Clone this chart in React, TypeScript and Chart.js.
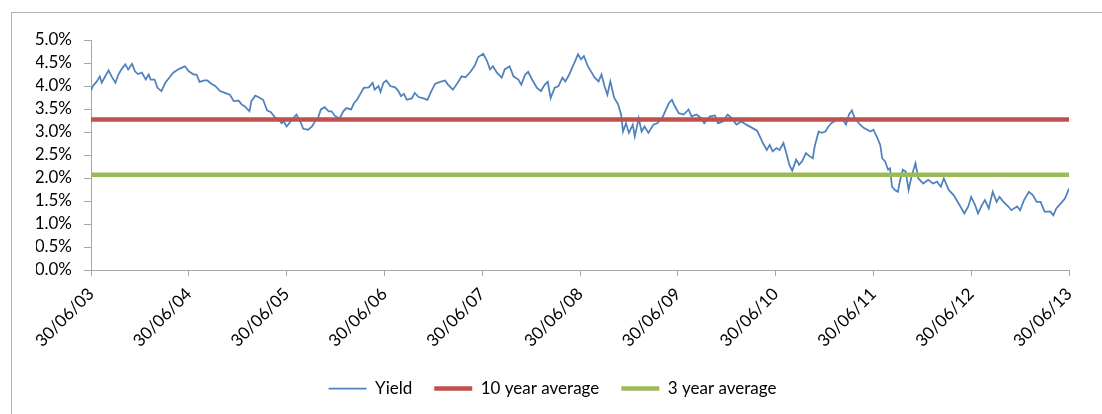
import React, { useEffect, useRef } from "react";
import { Chart, registerables } from "chart.js";
Chart.register(...registerables);

const FONT = "Lato, 'Open Sans', sans-serif";

// decimal years (30/06/03 = 2003.5)
const yieldYears = [
  2003.50, 2003.52, 2003.56, 2003.59, 2003.61, 2003.64, 2003.68, 2003.71, 2003.75, 2003.78,
  2003.81, 2003.85, 2003.88, 2003.92, 2003.95, 2003.98, 2004.02, 2004.06, 2004.09, 2004.11,
  2004.15, 2004.18, 2004.22, 2004.26, 2004.30, 2004.34, 2004.39, 2004.43, 2004.46, 2004.50,
  2004.55, 2004.58, 2004.61, 2004.66, 2004.69, 2004.73, 2004.77, 2004.82, 2004.87, 2004.92,
  2004.96, 2005.01, 2005.04, 2005.07, 2005.12, 2005.14, 2005.18, 2005.21, 2005.26, 2005.30,
  2005.34, 2005.38, 2005.42, 2005.45, 2005.47, 2005.50, 2005.55, 2005.60, 2005.64, 2005.67,
  2005.72, 2005.76, 2005.79, 2005.82, 2005.85, 2005.89, 2005.93, 2005.96, 2005.99, 2006.04,
  2006.08, 2006.11, 2006.16, 2006.19, 2006.22, 2006.26, 2006.29, 2006.34, 2006.38, 2006.40,
  2006.44, 2006.46, 2006.49, 2006.52, 2006.56, 2006.61, 2006.64, 2006.67, 2006.70, 2006.73,
  2006.78, 2006.81, 2006.85, 2006.90, 2006.94, 2006.98, 2007.02, 2007.07, 2007.12, 2007.15,
  2007.20, 2007.25, 2007.29, 2007.33, 2007.38, 2007.42, 2007.46, 2007.51, 2007.55, 2007.58,
  2007.61, 2007.65, 2007.70, 2007.73, 2007.78, 2007.82, 2007.87, 2007.90, 2007.94, 2007.97,
  2008.01, 2008.06, 2008.10, 2008.14, 2008.17, 2008.20, 2008.24, 2008.28, 2008.32, 2008.35,
  2008.39, 2008.42, 2008.45, 2008.48, 2008.51, 2008.54, 2008.58, 2008.62, 2008.65, 2008.69,
  2008.72, 2008.75, 2008.78, 2008.81, 2008.85, 2008.89, 2008.92, 2008.94, 2008.97, 2009.00,
  2009.04, 2009.06, 2009.10, 2009.13, 2009.16, 2009.20, 2009.25, 2009.29, 2009.34, 2009.38,
  2009.41, 2009.44, 2009.47, 2009.51, 2009.56, 2009.61, 2009.64, 2009.69, 2009.74, 2009.77,
  2009.83, 2009.88, 2009.91, 2009.96, 2010.01, 2010.05, 2010.10, 2010.15, 2010.20, 2010.26,
  2010.31, 2010.34, 2010.37, 2010.41, 2010.44, 2010.47, 2010.51, 2010.54, 2010.58, 2010.61,
  2010.64, 2010.67, 2010.71, 2010.74, 2010.77, 2010.81, 2010.85, 2010.88, 2010.90, 2010.94,
  2010.97, 2011.01, 2011.04, 2011.07, 2011.13, 2011.18, 2011.22, 2011.25, 2011.28, 2011.31,
  2011.36, 2011.40, 2011.47, 2011.50, 2011.54, 2011.57, 2011.59, 2011.62, 2011.65, 2011.67,
  2011.69, 2011.72, 2011.75, 2011.77, 2011.80, 2011.83, 2011.86, 2011.89, 2011.93, 2011.96,
  2012.01, 2012.06, 2012.11, 2012.15, 2012.19, 2012.22, 2012.27, 2012.32, 2012.37, 2012.43,
  2012.47, 2012.50, 2012.54, 2012.57, 2012.61, 2012.64, 2012.68, 2012.72, 2012.76, 2012.79,
  2012.83, 2012.88, 2012.91, 2012.97, 2013.00, 2013.04, 2013.09, 2013.13, 2013.17, 2013.21,
  2013.25, 2013.31, 2013.34, 2013.37, 2013.43, 2013.46, 2013.50,
];

const yieldValues = [
  3.90, 4.00, 4.10, 4.21, 4.07, 4.19, 4.34, 4.21, 4.07, 4.25,
  4.36, 4.47, 4.36, 4.48, 4.32, 4.26, 4.29, 4.14, 4.25, 4.14,
  4.14, 3.96, 3.89, 4.07, 4.18, 4.29, 4.36, 4.40, 4.43, 4.32,
  4.25, 4.25, 4.09, 4.12, 4.12, 4.05, 4.00, 3.89, 3.85, 3.81,
  3.67, 3.68, 3.60, 3.56, 3.45, 3.67, 3.79, 3.76, 3.70, 3.47,
  3.43, 3.32, 3.27, 3.19, 3.23, 3.12, 3.25, 3.38, 3.23, 3.07,
  3.05, 3.12, 3.23, 3.30, 3.49, 3.54, 3.45, 3.45, 3.36, 3.29,
  3.45, 3.52, 3.49, 3.63, 3.70, 3.85, 3.96, 3.97, 4.07, 3.92,
  4.00, 3.87, 4.07, 4.12, 4.00, 3.97, 3.90, 3.78, 3.83, 3.70,
  3.73, 3.85, 3.76, 3.73, 3.70, 3.89, 4.05, 4.09, 4.12, 4.03,
  3.92, 4.07, 4.21, 4.19, 4.31, 4.43, 4.63, 4.70, 4.54, 4.36,
  4.43, 4.29, 4.18, 4.36, 4.43, 4.21, 4.14, 4.03, 4.25, 4.31,
  4.14, 3.96, 3.89, 4.03, 4.09, 3.74, 3.96, 4.00, 4.18, 4.10,
  4.25, 4.40, 4.54, 4.69, 4.58, 4.65, 4.43, 4.29, 4.18, 4.10,
  4.25, 4.00, 3.81, 4.10, 3.74, 3.60, 3.38, 3.01, 3.19, 2.98,
  3.16, 2.90, 3.30, 3.01, 3.12, 2.98, 3.16, 3.19, 3.30, 3.49,
  3.63, 3.70, 3.56, 3.41, 3.38, 3.49, 3.34, 3.38, 3.30, 3.19,
  3.34, 3.36, 3.19, 3.23, 3.38, 3.30, 3.16, 3.23, 3.16, 3.09,
  3.03, 2.90, 2.76, 2.61, 2.72, 2.58, 2.65, 2.61, 2.76, 2.54,
  2.29, 2.16, 2.40, 2.29, 2.36, 2.54, 2.47, 2.43, 2.69, 3.01,
  2.98, 3.01, 3.12, 3.19, 3.27, 3.30, 3.16, 3.38, 3.47, 3.30,
  3.17, 3.09, 3.01, 3.05, 2.87, 2.72, 2.43, 2.36, 2.18, 2.21,
  1.81, 1.74, 1.70, 1.92, 2.18, 2.14, 1.74, 2.03, 2.32, 1.99,
  1.88, 1.96, 1.88, 1.92, 1.81, 1.99, 1.74, 1.63, 1.45, 1.23,
  1.38, 1.59, 1.41, 1.23, 1.41, 1.52, 1.34, 1.70, 1.48, 1.59,
  1.48, 1.38, 1.30, 1.38, 1.30, 1.52, 1.70, 1.63, 1.48, 1.48,
  1.27, 1.27, 1.19, 1.34, 1.48, 1.56, 1.77,
];

const tickYears = [2003.5, 2004.5, 2005.5, 2006.5, 2007.5, 2008.5, 2009.5, 2010.5, 2011.5, 2012.5, 2013.5];
const tickLabels = ["30/06/03", "30/06/04", "30/06/05", "30/06/06", "30/06/07", "30/06/08", "30/06/09", "30/06/10", "30/06/11", "30/06/12", "30/06/13"];
const yTickValues = [0, 0.5, 1, 1.5, 2, 2.5, 3, 3.5, 4, 4.5, 5];
const tenYearAverage = 3.27;
const threeYearAverage = 2.07;
const seriesLabels = ["Yield", "10 year average", "3 year average"];

export default function App() {
  const ref = useRef<HTMLCanvasElement>(null);
  useEffect(() => {
    const start = tickYears[0];
    const end = tickYears[tickYears.length - 1];
    const axisColor = "#a6a6a6";
    const chart = new Chart(ref.current!, {
      type: "line",
      data: {
        datasets: [
          {
            label: seriesLabels[0],
            data: yieldYears.map((x, i) => ({ x, y: yieldValues[i] })),
            borderColor: "#4f81bd",
            backgroundColor: "#4f81bd",
            borderWidth: 1.75,
            pointRadius: 0,
            tension: 0,
            order: 2,
          },
          {
            label: seriesLabels[1],
            data: [{ x: start, y: tenYearAverage }, { x: end, y: tenYearAverage }],
            borderColor: "#c0504d",
            backgroundColor: "#c0504d",
            borderWidth: 4.5,
            pointRadius: 0,
            order: 1,
          },
          {
            label: seriesLabels[2],
            data: [{ x: start, y: threeYearAverage }, { x: end, y: threeYearAverage }],
            borderColor: "#9bbb59",
            backgroundColor: "#9bbb59",
            borderWidth: 4.5,
            pointRadius: 0,
            order: 0,
          },
        ],
      },
      options: {
        responsive: false,
        animation: false,
        layout: { padding: { left: 24, right: 33, top: 27, bottom: 0 } },
        plugins: {
          tooltip: { enabled: false },
          legend: {
            position: "bottom",
            labels: {
              usePointStyle: true,
              pointStyle: "line",
              pointStyleWidth: 38,
              padding: 22,
              color: "#000",
              font: { family: FONT, size: 17 },
              sort: (a: any, b: any) => a.datasetIndex - b.datasetIndex,
            },
          },
        },
        scales: {
          x: {
            type: "linear",
            min: start,
            max: end,
            afterBuildTicks: (scale: any) => {
              scale.ticks = tickYears.map((value) => ({ value }));
            },
            afterFit: (scale: any) => {
              scale.height = 88;
            },
            ticks: {
              autoSkip: false,
              minRotation: 45,
              maxRotation: 45,
              padding: 8,
              color: "#000",
              font: { family: FONT, size: 17 },
              callback: (value: any) => {
                const i = tickYears.indexOf(Number(value));
                return i >= 0 ? tickLabels[i] : "";
              },
            },
            grid: { drawOnChartArea: false, drawTicks: true, tickLength: 6, color: axisColor },
            border: { color: axisColor, width: 1 },
          },
          y: {
            min: 0,
            max: 5,
            afterBuildTicks: (scale: any) => {
              scale.ticks = yTickValues.map((value) => ({ value }));
            },
            afterFit: (scale: any) => {
              scale.width = 55;
            },
            ticks: {
              autoSkip: false,
              padding: 12,
              color: "#000",
              font: { family: FONT, size: 17 },
              callback: (value: any) => Number(value).toFixed(1) + "%",
            },
            grid: { drawOnChartArea: false, drawTicks: true, tickLength: 7, color: axisColor },
            border: { color: axisColor, width: 1 },
          },
        },
      },
    });
    return () => chart.destroy();
  }, []);
  return (
    <div
      style={{
        position: "absolute",
        left: 11,
        top: 12,
        width: 1090,
        height: 401,
        borderLeft: "1px solid #b3b3b3",
        borderTop: "1px solid #b3b3b3",
        overflow: "hidden",
      }}
    >
      <canvas ref={ref} width={1090} height={394} style={{ display: "block" }} />
    </div>
  );
}
